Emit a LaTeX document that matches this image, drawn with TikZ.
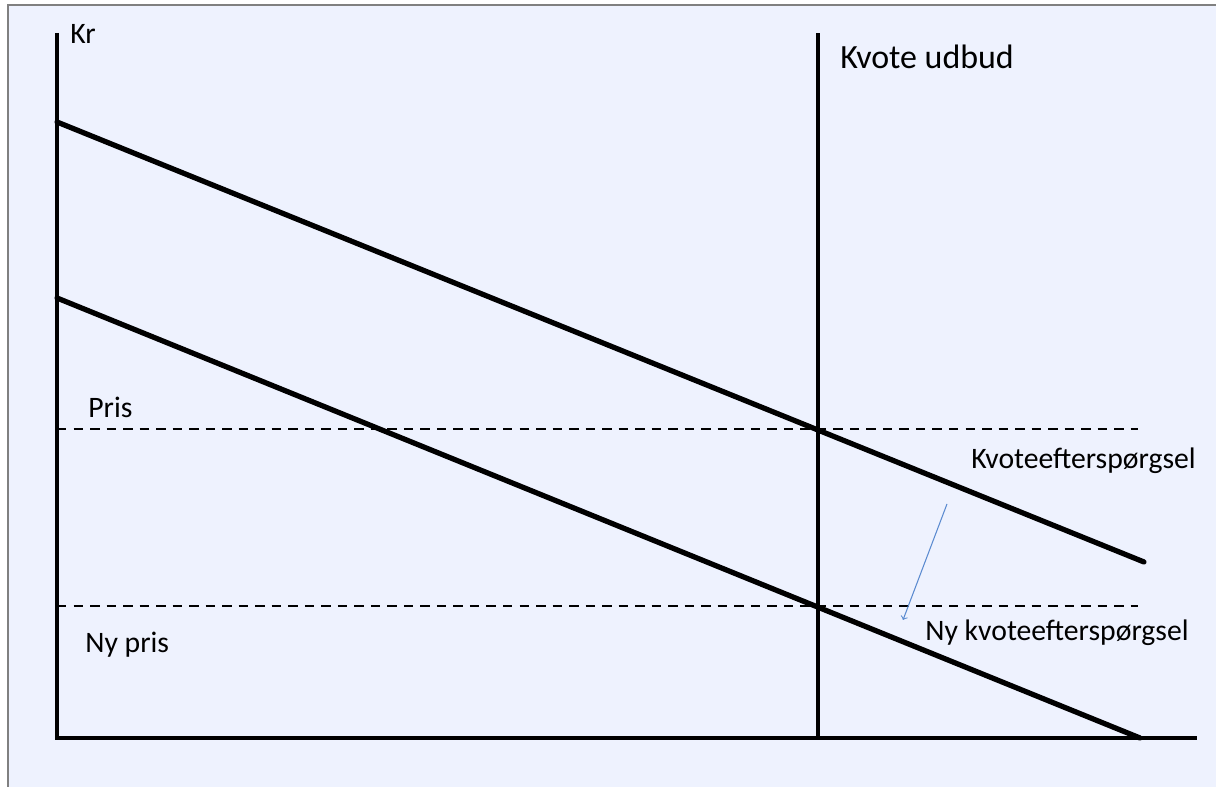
\documentclass[tikz,border=0pt]{standalone}
\usepackage{fontspec}
\setmainfont{Carlito}
\definecolor{slidebg}{RGB}{238,242,254}
\definecolor{shiftblue}{RGB}{91,139,208}

\begin{document}
\begin{tikzpicture}[scale=1.0,
	axis/.style={line width=2.3pt},
	demand/.style={line width=3pt, line cap=round},
	pricedash/.style={line width=1.1pt, dash pattern=on 5.4pt off 4pt},
	lbl/.style={anchor=west, inner sep=0pt, font=\fontsize{16.9}{20}\selectfont}]
	% slide background, thin frame at left and top
	\useasboundingbox (-1.14,-0.98) rectangle (23.18,14.76);
	\fill[slidebg] (-0.98,-0.98) rectangle (23.18,14.66);
	\draw[gray, line width=0.6pt] (-0.98,-0.98) -- (-0.98,14.66) -- (23.18,14.66);
	% axes
	\coordinate (O) at (0,0);
	\coordinate (ytop) at (0,14.10);
	\coordinate (xend) at (22.80,0);
	\draw[axis] (ytop) -- (O) -- (xend);
	\node[lbl] (kr) at (0.26,14.08) {Kr};
	% quota supply
	\coordinate (qbot) at (15.22,0);
	\coordinate (qtop) at (15.22,14.10);
	\draw[line width=2.4pt] (qbot) -- (qtop);
	\node[lbl, font=\fontsize{19.3}{23}\selectfont] (udbud) at (15.66,13.62) {Kvote udbud};
	% price levels
	\coordinate (p1a) at (0,6.18);
	\coordinate (p1b) at (21.62,6.18);
	\coordinate (p2a) at (0,2.64);
	\coordinate (p2b) at (21.62,2.64);
	\draw[pricedash] (p1a) -- (p1b);
	\draw[pricedash] (p2a) -- (p2b);
	\node[lbl] (pris) at (0.62,6.62) {Pris};
	\node[lbl] (nypris) at (0.56,1.86) {Ny pris};
	% demand before and after
	\coordinate (d1a) at (0,12.32);
	\coordinate (d1b) at (21.74,3.52);
	\coordinate (d2a) at (0,8.80);
	\coordinate (d2b) at (21.66,0);
	\draw[demand] (d1a) -- (d1b);
	\draw[demand] (d2a) -- (d2b);
	\node[lbl] (eft) at (18.28,5.54) {Kvoteefterspørgsel};
	\node[lbl] (nyeft) at (17.36,2.10) {Ny kvoteefterspørgsel};
	% shift
	\coordinate (sa) at (17.80,4.68);
	\coordinate (sb) at (16.92,2.36);
	\draw[->, shiftblue, line width=0.6pt] (sa) -- (sb);
\end{tikzpicture}
\end{document}
